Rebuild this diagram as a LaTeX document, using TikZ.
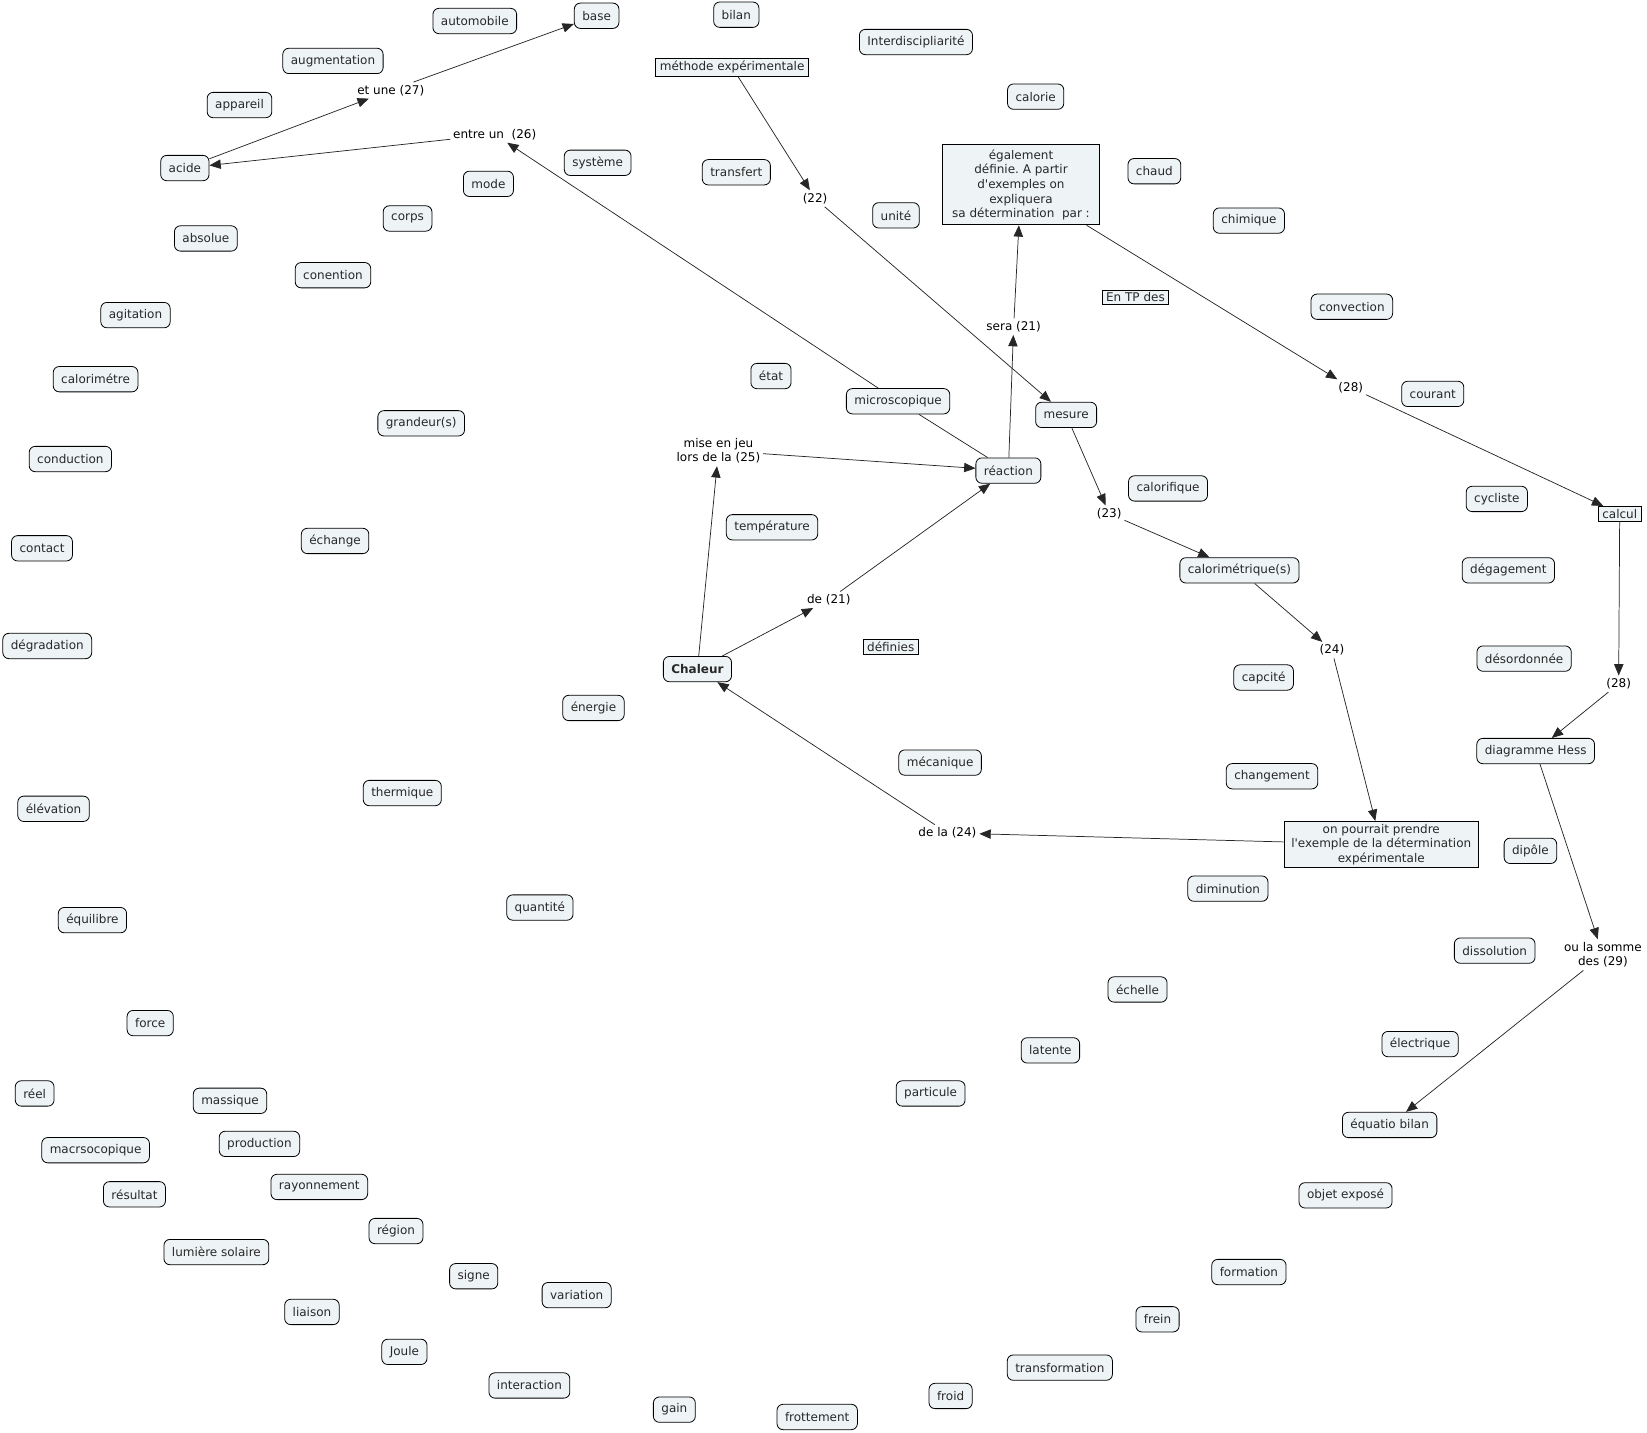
\documentclass[tikz,border=0pt]{standalone}
\usepackage{fontspec}
\setmainfont{DejaVu Sans}[Ligatures=TeXOff]
\usepackage{tikz}
\usepackage{xcolor}
\usetikzlibrary{arrows.meta}

\definecolor{boxfill}{RGB}{238,243,245}
\definecolor{boxtext}{RGB}{40,40,40}
\frenchspacing

\begin{document}
\begin{tikzpicture}[x=0.7878pt, y=-0.7878pt, >={Triangle[length=8.5pt,width=7pt]},
    font=\fontsize{9}{11}\selectfont,
    concept/.style={draw=black, fill=boxfill, rounded corners=4.5pt, text=boxtext,
        minimum height=19pt, inner xsep=6pt, inner ysep=3pt, line width=0.6pt},
    framed/.style={draw=black, fill=boxfill, text=boxtext, inner xsep=3pt,
        inner ysep=2pt, line width=0.6pt, align=center},
    phrase/.style={text=black, inner sep=2pt, align=center},
    link/.style={->, line width=0.55pt, black!85}]
    \useasboundingbox (0,0) rectangle (1568,1364);

    % Concepts, left side
    \node[concept] (automobile) at (452,20) {automobile};
    \node[concept] (base) at (568,15) {base};
    \node[concept] (augmentation) at (317,58) {augmentation};
    \node[concept] (appareil) at (228,100) {appareil};
    \node[concept] (acide) at (176,160) {acide};
    \node[concept] (systeme) at (569,155) {système};
    \node[concept] (mode) at (465,175) {mode};
    \node[concept] (corps) at (388,208) {corps};
    \node[concept] (absolue) at (196,227) {absolue};
    \node[concept] (conention) at (317,262) {conention};
    \node[concept] (agitation) at (129,300) {agitation};
    \node[concept] (calorimetre) at (91,361) {calorimétre};
    \node[concept] (grandeur) at (401,403) {grandeur(s)};
    \node[concept] (conduction) at (67,437) {conduction};
    \node[concept] (contact) at (40,522) {contact};
    \node[concept] (echange) at (319,515) {échange};
    \node[concept] (degradation) at (45,615) {dégradation};
    \node[concept] (energie) at (565,674) {énergie};
    \node[concept] (elevation) at (51,770) {élévation};
    \node[concept] (thermique) at (383,755) {thermique};
    \node[concept] (quantite) at (514,864) {quantité};
    \node[concept] (equilibre) at (88,876) {équilibre};
    \node[concept] (force) at (143,974) {force};
    \node[concept] (reel) at (33,1041) {réel};
    \node[concept] (massique) at (219,1048) {massique};
    \node[concept] (macro) at (91,1095) {macrsocopique};
    \node[concept] (production) at (247,1089) {production};
    \node[concept] (resultat) at (128,1137) {résultat};
    \node[concept] (rayonnement) at (304,1130) {rayonnement};
    \node[concept] (region) at (377,1172) {région};
    \node[concept] (lumiere) at (206,1192) {lumière solaire};
    \node[concept] (signe) at (451,1215) {signe};
    \node[concept] (variation) at (549,1233) {variation};
    \node[concept] (liaison) at (297,1249) {liaison};
    \node[concept] (joule) at (385,1287) {Joule};
    \node[concept] (interaction) at (504,1319) {interaction};
    \node[concept] (gain) at (642,1342) {gain};
    \node[concept] (frottement) at (778,1349) {frottement};

    % Concepts, middle and right
    \node[concept] (froid) at (905,1329) {froid};
    \node[concept] (transformation) at (1009,1302) {transformation};
    \node[concept] (frein) at (1102,1256) {frein};
    \node[concept] (formation) at (1189,1211) {formation};
    \node[concept] (objet) at (1281,1138) {objet exposé};
    \node[concept] (equatio) at (1323,1071) {équatio bilan};
    \node[concept] (electrique) at (1352,994) {électrique};
    \node[concept] (particule) at (886,1041) {particule};
    \node[concept] (latente) at (1000,1000) {latente};
    \node[concept] (echelle) at (1083,942) {échelle};
    \node[concept] (dissolution) at (1423,905) {dissolution};
    \node[concept] (diminution) at (1169,846) {diminution};
    \node[concept] (dipole) at (1457,810) {dipôle};
    \node[concept] (hess) at (1462,715) {diagramme Hess};
    \node[concept] (desordonnee) at (1451,627) {désordonnée};
    \node[concept] (degagement) at (1436,543) {dégagement};
    \node[concept] (cycliste) at (1425,475) {cycliste};
    \node[concept] (courant) at (1364,375) {courant};
    \node[concept] (convection) at (1287,292) {convection};
    \node[concept] (chimique) at (1189,210) {chimique};
    \node[concept] (chaud) at (1099,163) {chaud};
    \node[concept] (calorie) at (986,92) {calorie};
    \node[concept] (interdisc) at (872,40) {Interdiscipliarité};
    \node[concept] (bilan) at (701,14) {bilan};
    \node[concept] (transfert) at (701,164) {transfert};
    \node[concept] (unite) at (853,205) {unité};
    \node[concept] (etat) at (734,358) {état};
    \node[concept] (micro) at (855,382) {microscopique};
    \node[concept] (mesure) at (1015,395) {mesure};
    \node[concept] (reaction) at (960,448) {réaction};
    \node[concept] (calorifique) at (1112,465) {calorifique};
    \node[concept] (temperature) at (735,502) {température};
    \node[concept] (calorimetrique) at (1180,543) {calorimétrique(s)};
    \node[concept] (capcite) at (1203,645) {capcité};
    \node[concept] (mecanique) at (895,726) {mécanique};
    \node[concept] (changement) at (1211,739) {changement};
    \node[concept, font=\fontsize{9}{11}\selectfont\bfseries] (chaleur) at (664,637) {Chaleur};

    % Framed boxes
    \node[framed] (methode) at (697,64) {méthode expérimentale};
    \node[framed, minimum width=118pt, minimum height=60pt, inner ysep=1pt] (egalement) at (972,176)
        {également\\définie. A partir\\d'exemples on\\expliquera\\sa détermination\ \ par :};
    \node[framed] (entp) at (1081,283) {En TP des};
    \node[framed] (definies) at (848,616) {définies};
    \node[framed] (calcul) at (1542,489) {calcul};
    \node[framed, minimum width=146pt] (prendre) at (1315,804)
        {on pourrait prendre\\l'exemple de la détermination\\expérimentale};

    % Linking phrases
    \node[phrase] (etune) at (372,86) {et une (27)};
    \node[phrase] (entreun) at (471,128) {entre un\ \ (26)};
    \node[phrase] (l22) at (776,189) {(22)};
    \node[phrase] (sera) at (965,311) {sera (21)};
    \node[phrase] (l28a) at (1286,369) {(28)};
    \node[phrase] (miseenjeu) at (684,429) {mise en jeu\\lors de la (25)};
    \node[phrase] (l23) at (1056,489) {(23)};
    \node[phrase] (de21) at (789,571) {de (21)};
    \node[phrase] (l24) at (1268,619) {(24)};
    \node[phrase] (l28b) at (1541,651) {(28)};
    \node[phrase] (dela24) at (902,793) {de la (24)};
    \node[phrase] (somme) at (1526,909) {ou la somme\\des (29)};

    % Connectors
    \draw[link] (acide) -- (etune);
    \draw[link] (etune) -- (base);
    \draw[link] (entreun) -- (acide);
    \draw[link] (micro) -- (entreun);
    \draw[line width=0.55pt, black!85] (reaction) -- (micro);
    \draw[link] (methode) -- (l22);
    \draw[link] (l22) -- (mesure);
    \draw[link] (reaction) -- (sera);
    \draw[link] (sera) -- (egalement);
    \draw[link] (egalement) -- (l28a);
    \draw[link] (l28a) -- (calcul);
    \draw[link] (calcul) -- (l28b);
    \draw[link] (l28b) -- (hess);
    \draw[link] (hess) -- (somme);
    \draw[link] (somme) -- (equatio);
    \draw[link] (mesure) -- (l23);
    \draw[link] (l23) -- (calorimetrique);
    \draw[link] (calorimetrique) -- (l24);
    \draw[link] (l24) -- (prendre);
    \draw[link] (prendre) -- (dela24);
    \draw[link] (dela24) -- (chaleur);
    \draw[link] (chaleur) -- (de21);
    \draw[link] (de21) -- (reaction);
    \draw[link] (chaleur) -- (miseenjeu);
    \draw[link] (miseenjeu) -- (reaction);
\end{tikzpicture}
\end{document}
